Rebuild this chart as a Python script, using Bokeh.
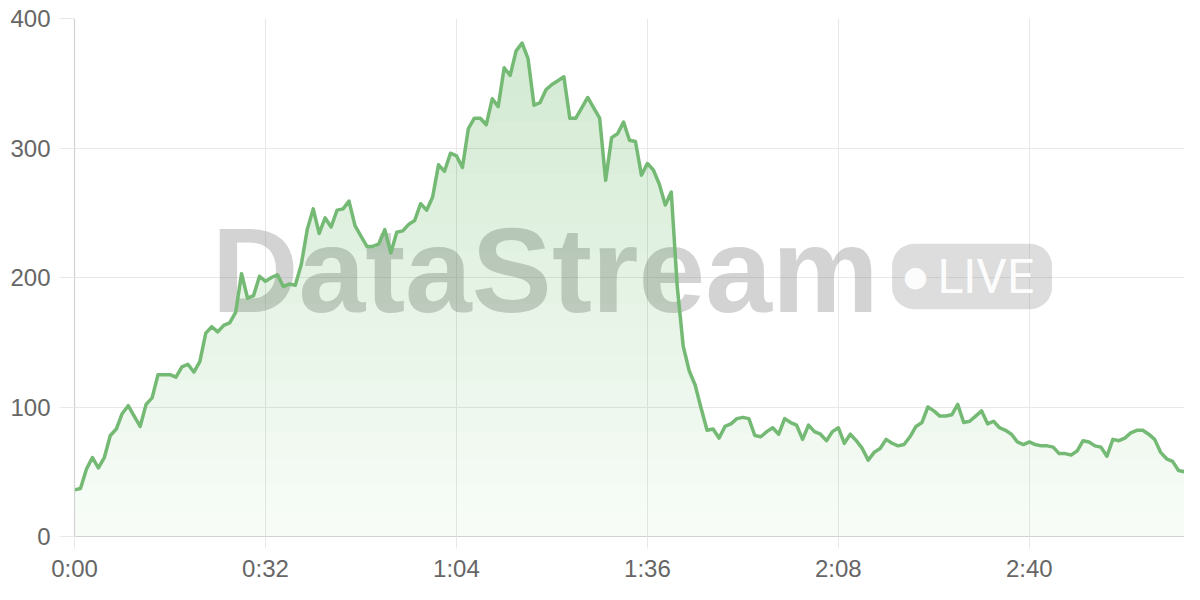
import numpy as np
from bokeh.plotting import figure
from bokeh.models import Range1d, FixedTicker, Label, BoxAnnotation
from bokeh.embed import file_html
from bokeh.resources import INLINE

# ---- data (one reading per second) ----
seconds = list(range(187))
values = [
    36, 37, 52, 61, 53, 61, 78, 83, 95, 101,
    93, 85, 102, 107, 125, 125, 125, 123, 131, 133,
    127, 135, 157, 162, 158, 163, 165, 173, 203, 184,
    186, 201, 197, 200, 202, 193, 195, 194, 210, 237,
    253, 234, 246, 239, 252, 253, 259, 240, 232, 224,
    224, 226, 237, 219, 235, 236, 241, 244, 257, 252,
    262, 287, 282, 296, 294, 285, 315, 323, 323, 318,
    338, 332, 362, 356, 375, 381, 369, 333, 335, 345,
    349, 352, 355, 323, 323, 331, 339, 331, 323, 275,
    308, 311, 320, 306, 305, 279, 288, 283, 272, 256,
    266, 193, 147, 128, 117, 99, 82, 83, 76, 85,
    87, 91, 92, 91, 78, 77, 81, 84, 79, 91,
    88, 86, 75, 86, 81, 79, 74, 81, 84, 72,
    79, 74, 68, 59, 65, 68, 75, 72, 70, 71,
    77, 85, 88, 100, 97, 93, 93, 94, 102, 88,
    89, 93, 97, 87, 89, 84, 82, 79, 73, 71,
    73, 71, 70, 70, 69, 64, 64, 63, 66, 74,
    73, 70, 69, 62, 75, 74, 76, 80, 82, 82,
    79, 75, 65, 60, 58, 51, 50,
]
tick_seconds = [0, 32, 64, 96, 128, 160]
tick_labels = ["0:00", "0:32", "1:04", "1:36", "2:08", "2:40"]
y_ticks = [0, 100, 200, 300, 400]

LINE = "#74b974"
FILL = "#66bb6a"
GRID = "#e8e8e8"
TXT = "#666666"
FONT = "Liberation Sans"

p = figure(width=1184, height=584, output_backend="svg", toolbar_location=None,
           x_range=Range1d(0, 186), y_range=Range1d(0, 400),
           min_border_left=74, min_border_right=0,
           min_border_top=18, min_border_bottom=46)
p.outline_line_color = None
p.background_fill_color = "white"

# ---- watermark ----
wm = Label(x=23.0, y=206, text="DataStream", text_font=FONT,
           text_font_size="120px", text_font_style="bold",
           text_color="#808080", text_alpha=0.35,
           text_baseline="middle", text_align="left", level="underlay")
p.add_layout(wm)
badge = BoxAnnotation(left=137.0, right=163.8, bottom=175.5, top=226,
                      fill_color="#808080", fill_alpha=0.27, line_alpha=0,
                      border_radius=22, level="underlay")
p.add_layout(badge)
dot = Label(x=140.9, y=200.8, text="●", text_font="DejaVu Sans",
            text_font_size="28px", text_color="white", text_alpha=0.95,
            text_align="center", text_baseline="middle", level="underlay")
p.add_layout(dot)
live = Label(x=144.6, y=201, text="LIVE", text_font="Roboto",
             text_font_size="48px", text_color="white", text_alpha=0.95,
             text_align="left", text_baseline="middle", level="underlay")
p.add_layout(live)

# ---- gradient area (stacked translucent layers) ----
v = np.array(values, dtype=float)
for k, h in enumerate(range(0, 400, 20)):
    a = 0.05 if k == 0 else 0.012
    p.varea(x=seconds, y1=np.minimum(v, h), y2=v, fill_color=FILL, fill_alpha=a)

p.line(seconds, values, line_color=LINE, line_width=3.5, line_join="round")

# ---- axes / grid ----
p.xaxis.ticker = FixedTicker(ticks=tick_seconds)
p.xaxis.major_label_overrides = dict(zip(tick_seconds, tick_labels))
p.yaxis.ticker = FixedTicker(ticks=y_ticks)
p.xgrid.ticker = FixedTicker(ticks=tick_seconds)
p.ygrid.ticker = FixedTicker(ticks=y_ticks)
for g in (p.xgrid, p.ygrid):
    g.grid_line_color = GRID
    g.grid_line_width = 1

p.xaxis.major_tick_out = 12
p.yaxis.major_tick_out = 15
for ax in (p.xaxis, p.yaxis):
    ax.major_tick_in = 0
    ax.minor_tick_line_color = None
    ax.major_tick_line_color = GRID
    ax.axis_line_color = "#d2d2d2"
    ax.axis_line_width = 1.2
    ax.major_label_text_font = FONT
    ax.major_label_text_font_size = "24px"
    ax.major_label_text_color = TXT
p.xaxis.major_label_standoff = 6
p.yaxis.major_label_standoff = 9

open("out.html", "w").write(file_html(p, INLINE))
